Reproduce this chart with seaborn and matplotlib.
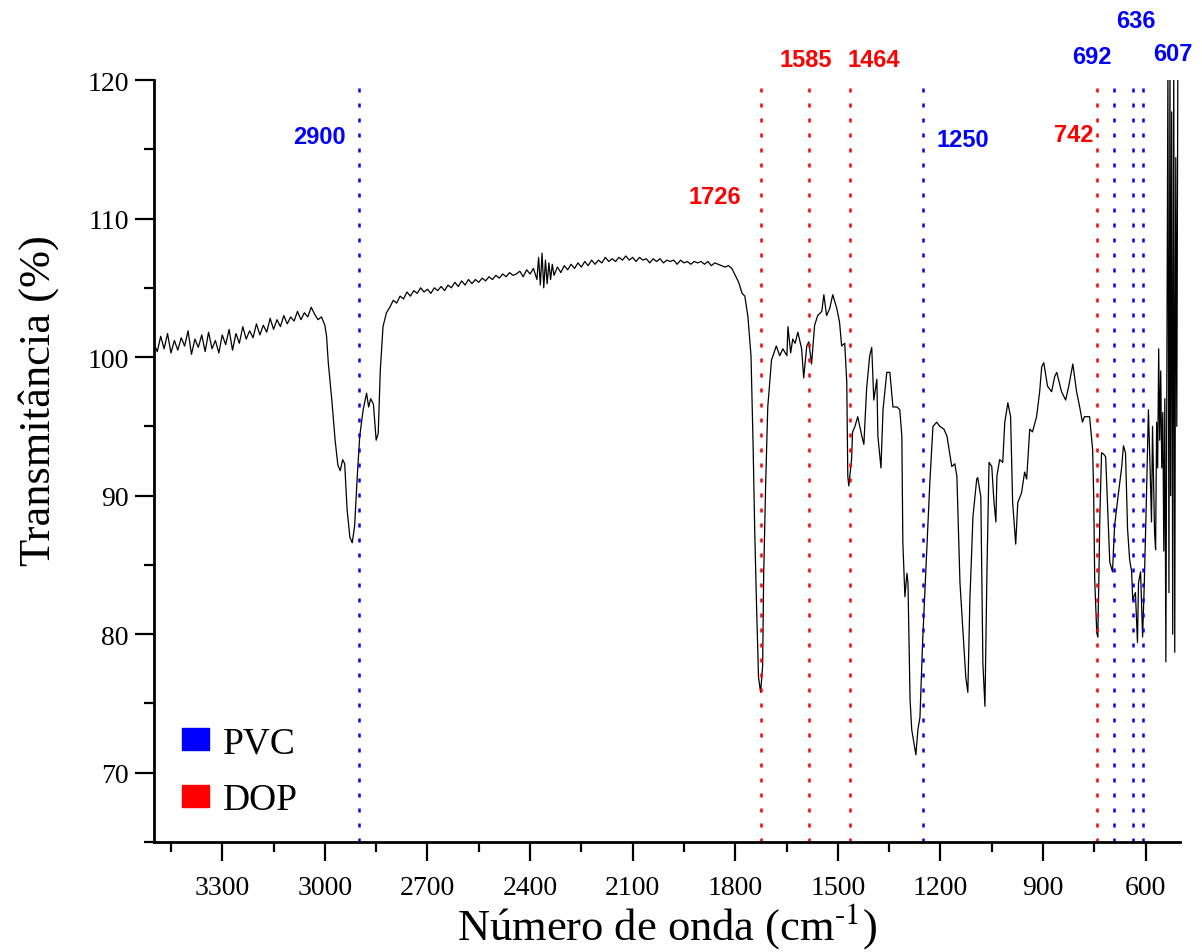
import pandas as pd
import seaborn as sns
import matplotlib.pyplot as plt
from matplotlib.patches import Patch
from matplotlib.ticker import MultipleLocator

# FTIR spectrum (wavenumber in cm-1, transmittance in %)
wavenumber = [
    3500, 3490, 3480, 3470, 3460, 3450, 3440, 3430, 3420, 3410,
    3400, 3390, 3380, 3370, 3360, 3350, 3340, 3330, 3320, 3310,
    3300, 3290, 3280, 3270, 3260, 3250, 3240, 3230, 3220, 3210,
    3200, 3190, 3180, 3170, 3160, 3150, 3140, 3130, 3120, 3110,
    3100, 3090, 3080, 3070, 3060, 3050, 3040, 3030, 3020, 3010,
    3000, 2995, 2990, 2980, 2970, 2962, 2955, 2948, 2942, 2935,
    2927, 2920, 2913, 2905, 2898, 2888, 2878, 2872, 2866, 2858,
    2850, 2844, 2838, 2830, 2820, 2810, 2800, 2790, 2780, 2770,
    2760, 2750, 2740, 2730, 2720, 2710, 2700, 2690, 2680, 2670,
    2660, 2650, 2640, 2630, 2620, 2610, 2600, 2590, 2580, 2570,
    2560, 2550, 2540, 2530, 2520, 2510, 2500, 2490, 2480, 2470,
    2460, 2450, 2440, 2430, 2420, 2410, 2400, 2390, 2380, 2375,
    2370, 2365, 2360, 2355, 2350, 2345, 2340, 2335, 2330, 2320,
    2310, 2300, 2290, 2280, 2270, 2260, 2250, 2240, 2230, 2220,
    2210, 2200, 2190, 2180, 2170, 2160, 2150, 2140, 2130, 2120,
    2110, 2100, 2090, 2080, 2070, 2060, 2050, 2040, 2030, 2020,
    2010, 2000, 1990, 1980, 1970, 1960, 1950, 1940, 1930, 1920,
    1910, 1900, 1890, 1880, 1870, 1860, 1850, 1840, 1830, 1820,
    1810, 1800, 1790, 1780, 1772, 1763, 1754, 1748, 1743, 1737,
    1732, 1726, 1720, 1717, 1711, 1705, 1694, 1680, 1670, 1661,
    1649, 1646, 1638, 1632, 1625, 1617, 1606, 1600, 1595, 1591,
    1585, 1577, 1568, 1559, 1547, 1541, 1533, 1524, 1515, 1509,
    1503, 1495, 1489, 1480, 1474, 1471, 1468, 1460, 1457, 1450,
    1442, 1430, 1424, 1416, 1407, 1401, 1395, 1386, 1383, 1374,
    1368, 1357, 1348, 1339, 1327, 1319, 1313, 1310, 1304, 1298,
    1295, 1289, 1284, 1278, 1272, 1266, 1260, 1252, 1240, 1231,
    1222, 1211, 1202, 1190, 1181, 1167, 1158, 1152, 1143, 1134,
    1126, 1120, 1114, 1105, 1094, 1091, 1082, 1076, 1070, 1064,
    1058, 1050, 1044, 1038, 1035, 1027, 1018, 1012, 1003, 995,
    989, 980, 974, 963, 954, 948, 939, 931, 919, 910,
    904, 898, 887, 875, 866, 860, 846, 834, 825, 813,
    802, 793, 785, 779, 764, 755, 752, 749, 743, 740,
    737, 734, 729, 723, 717, 711, 705, 697, 691, 682,
    670, 665, 659, 653, 647, 641, 638, 630, 624, 621,
    615, 609, 604, 598, 592, 586, 583, 580, 574, 571,
    568, 565, 562, 559, 556, 553, 550, 547, 544, 541,
    538, 535, 532, 529, 527, 524, 521, 518, 515, 512,
    509, 506, 503,
]
transmittance = [
    101.0, 100.4, 101.5, 100.6, 101.7, 100.3, 101.2, 100.5, 101.4, 100.8,
    101.9, 100.2, 101.3, 100.7, 101.6, 100.4, 101.8, 100.6, 101.2, 100.3,
    101.6, 100.9, 102.0, 100.5, 101.7, 101.0, 102.2, 101.3, 101.9, 101.4,
    102.4, 101.6, 102.3, 101.8, 102.8, 102.0, 102.7, 102.2, 103.0, 102.4,
    102.9, 102.6, 103.3, 102.7, 103.2, 102.9, 103.6, 103.1, 102.7, 102.9,
    102.3, 101.5, 99.6, 97.0, 94.0, 92.2, 91.8, 92.6, 92.3, 89.0,
    87.0, 86.6, 87.8, 91.5, 94.3, 96.2, 97.4, 96.4, 97.0, 96.6,
    94.0, 94.5, 99.0, 102.2, 103.2, 103.6, 104.1, 103.9, 104.4, 104.2,
    104.7, 104.4, 104.8, 104.6, 105.0, 104.7, 104.9, 104.6, 105.0, 104.8,
    105.1, 104.8, 105.2, 105.0, 105.4, 105.1, 105.5, 105.2, 105.6, 105.3,
    105.6, 105.4, 105.7, 105.5, 105.8, 105.6, 105.9, 105.7, 106.0, 105.8,
    106.1, 105.9, 106.0, 106.2, 105.8, 106.3, 106.0, 106.4, 105.6, 107.2,
    105.2, 107.5, 105.0, 107.0, 105.3, 106.8, 105.6, 106.7, 105.9, 106.5,
    106.1, 106.6, 106.3, 106.7, 106.4, 106.8, 106.5, 106.9, 106.6, 107.0,
    106.7, 107.0, 106.8, 107.2, 106.9, 107.1, 106.9, 107.2, 107.0, 107.3,
    107.0, 107.2, 106.9, 107.2, 107.0, 107.1, 106.8, 107.1, 106.9, 107.1,
    106.8, 107.0, 106.9, 107.0, 106.7, 107.0, 106.8, 106.9, 106.7, 106.9,
    106.8, 106.9, 106.7, 106.9, 106.6, 106.8, 106.7, 106.6, 106.5, 106.6,
    106.4, 105.9, 105.4, 104.6, 104.4, 102.9, 100.1, 93.8, 87.3, 81.3,
    76.9, 75.8, 77.7, 84.2, 91.0, 96.4, 99.8, 100.8, 100.1, 100.6,
    100.1, 102.2, 100.3, 101.3, 101.0, 101.8, 100.6, 98.5, 99.8, 100.8,
    101.1, 99.5, 102.3, 103.0, 103.3, 104.5, 103.0, 103.5, 104.5, 104.0,
    103.5, 102.5, 100.8, 101.0, 98.2, 91.4, 90.7, 92.6, 94.6, 95.0,
    95.7, 94.3, 93.7, 97.7, 100.1, 100.7, 96.9, 98.4, 94.3, 92.0,
    96.2, 98.9, 98.9, 96.4, 96.4, 96.2, 94.3, 86.6, 82.7, 84.4,
    83.7, 75.3, 73.1, 72.2, 71.3, 73.1, 74.0, 79.6, 86.1, 91.0,
    95.0, 95.3, 95.0, 94.8, 94.3, 92.1, 92.3, 91.4, 83.7, 80.1,
    76.9, 75.8, 82.5, 88.5, 91.2, 91.3, 89.9, 77.9, 74.8, 84.7,
    92.4, 92.1, 89.7, 88.1, 91.4, 92.6, 92.4, 95.3, 96.7, 95.7,
    89.5, 86.5, 89.5, 90.2, 91.7, 91.2, 94.8, 94.6, 95.7, 97.5,
    99.3, 99.6, 97.9, 97.5, 98.6, 98.9, 97.5, 96.9, 97.9, 99.5,
    97.5, 96.4, 95.3, 95.7, 95.7, 93.3, 89.9, 83.9, 80.1, 79.8,
    83.9, 88.5, 93.1, 93.0, 92.8, 89.0, 85.2, 84.5, 87.8, 89.7,
    92.1, 93.6, 93.1, 87.6, 85.4, 84.5, 82.5, 83.0, 79.4, 83.7,
    84.5, 79.8, 83.7, 89.7, 96.2, 91.0, 88.1, 95.0, 87.3, 86.1,
    95.3, 92.0, 100.6, 94.0, 99.0, 92.0, 96.0, 86.0, 97.0, 78.0,
    100.0, 121.0, 83.0, 122.0, 90.0, 117.7, 80.0, 122.0, 78.7, 114.4,
    95.0, 121.0, 121.0,
]

# band assignments marked with dotted lines
pvc_bands = [2900, 1250, 692, 636, 607]
dop_bands = [1726, 1585, 1464, 742]

sns.set_theme(style="ticks")
plt.rcParams['font.family'] = ['Liberation Serif', 'DejaVu Serif']
plt.rcParams['mathtext.fontset'] = 'stix'
for k in ['text.color', 'axes.labelcolor', 'xtick.color', 'ytick.color']:
    plt.rcParams[k] = 'black'

fig = plt.figure(figsize=(12.02, 9.53), dpi=100)
ax = fig.add_axes([0.128, 0.1154, 0.8536, 0.7996])

df = pd.DataFrame({'wn': wavenumber, 'T': transmittance})
sns.lineplot(data=df, x='wn', y='T', sort=False, estimator=None,
             color='black', lw=0.9, ax=ax)

dots = (0, (1.6, 4.4))
for b in pvc_bands:
    ax.axvline(b, ymax=0.99, color='#0000ff', ls=dots, lw=1.8)
for b in dop_bands:
    ax.axvline(b, ymax=0.99, color='#ff0000', ls=dots, lw=1.8)

# label placement (data coords) for each band
label_pos = {2900: (3015, 115.95), 1726: (1860, 111.6), 1585: (1594, 121.5),
             1464: (1395, 121.5), 1250: (1135, 115.7), 742: (810, 116.1),
             692: (758, 121.7), 636: (630, 124.3), 607: (521, 121.9)}
for b in pvc_bands + dop_bands:
    c = '#0000ff' if b in pvc_bands else '#ff0000'
    x, y = label_pos[b]
    ax.text(x, y, str(b), color=c, fontsize=17, fontweight='bold',
            family=['Liberation Sans', 'DejaVu Sans'],
            ha='center', va='center', clip_on=False)

ax.set_xlim(3500, 500)
ax.set_ylim(65, 120)
ax.xaxis.set_major_locator(MultipleLocator(300))
ax.xaxis.set_minor_locator(MultipleLocator(150))
ax.yaxis.set_major_locator(MultipleLocator(10))
ax.yaxis.set_minor_locator(MultipleLocator(5))

sns.despine(ax=ax)
for s in ['left', 'bottom']:
    ax.spines[s].set_linewidth(2)
    ax.spines[s].set_color('black')
ax.tick_params(which='major', direction='out', length=14, width=1.6,
               labelsize=20, color='black')
ax.tick_params(axis='x', which='major', pad=10)
ax.tick_params(axis='y', which='major', pad=4)
ax.tick_params(which='minor', direction='out', length=7, width=1.6, color='black')

ax.set_xlabel(r'Número de onda (cm$^{\text{-}1}$)', fontsize=32, labelpad=0)
ax.set_ylabel('Transmitância (%)', fontsize=32)
ax.yaxis.set_label_coords(-0.092, 0.58)

handles = [Patch(color='#0000ff', label='PVC'), Patch(color='#ff0000', label='DOP')]
ax.legend(handles=handles, loc='lower left', bbox_to_anchor=(-0.005, -0.012),
          frameon=False, fontsize=27, handlelength=0.72, handleheight=0.53,
          handletextpad=0.35, labelspacing=0.6)

fig.savefig('out.png', dpi=100)
